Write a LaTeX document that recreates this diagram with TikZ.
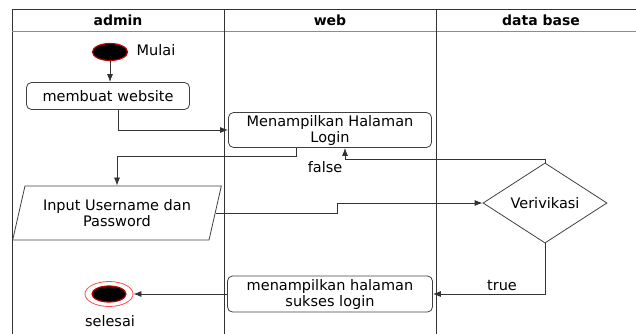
\documentclass[tikz,border=0pt]{standalone}
\usepackage{fontspec}
\setmainfont{DejaVu Sans}
\usetikzlibrary{shapes.geometric,arrows.meta,calc}
\begin{document}
\begin{tikzpicture}[x=1pt,y=-1pt,
                    font=\fontsize{14.5}{16}\selectfont,
                    line width=0.8pt,
                    >={Latex[length=8pt,width=6pt]}]
    \tikzstyle{lane}=[draw=black!80,line width=1pt]
    \tikzstyle{header}=[font=\fontsize{14}{16}\selectfont\bfseries]
    \tikzstyle{activity}=[draw=black!75,rounded corners=5pt,align=center,inner sep=1pt]
    \tikzstyle{startstate}=[ellipse,fill=black,draw=red!75!black,line width=1.2pt,minimum width=35,minimum height=17]
    \tikzstyle{endring}=[ellipse,draw=red!70,line width=0.8pt,minimum width=48,minimum height=25]
    \tikzstyle{endstate}=[startstate,minimum width=34,minimum height=16]
    \tikzstyle{flow}=[draw=black!80,->]

    \useasboundingbox (0,0) rectangle (636,334);

    % swimlanes
    \draw[lane] (12,334) -- (12,10) -- (636,10);
    \draw[lane,draw=black!45] (12,32) -- (636,32);
    \draw[lane] (224,10) -- (224,334);
    \draw[lane] (436,10) -- (436,334);
    \node[header] (admin) at (118,20) {admin};
    \node[header] (web) at (330,20) {web};
    \node[header] (db) at (541,20) {data base};

    % nodes
    \node[startstate] (start) at (110,52) {};
    \node (mulai) at (156,50) {Mulai};
    \node[activity,minimum width=163,minimum height=27] (website) at (108,96) {membuat website};
    \node[activity,minimum width=203,minimum height=35] (login) at (330,130) {Menampilkan Halaman\\Login};
    \node[trapezium,trapezium left angle=70,trapezium right angle=110,trapezium stretches=true,
          draw=black!75,align=center,inner sep=0pt,minimum width=209,minimum height=54] (input) at (117,213)
          {Input Username dan\\Password};
    \node[diamond,draw=black!75,inner sep=0pt,minimum width=124,minimum height=69] (verif) at (545,203) {Verivikasi};
    \node[activity,minimum width=205,minimum height=36] (sukses) at (330,294) {menampilkan halaman\\sukses login};
    \node[endring] (end) at (109,294) {};
    \node[endstate] (endin) at (109,294) {};
    \node (selesai) at (110,321) {selesai};

    % connectors
    \draw[flow] (start) -- (start |- website.north);
    \draw[flow] ($(website.south)+(10,0)$) |- (login.west);
    \draw[flow] ($(login.south)+(-34,0)$) -- ++(0,8) -| (input.north);
    \draw[flow] (verif.north) -- ++(0,-3) -| ($(login.south)+(15,0)$);
    \node (false) at (325,167) {false};
    \draw[flow] (input.east) -- ++(122,0) |- (verif.west);
    \draw[flow] (verif.south) |- (sukses.east);
    \node (true) at (502,286) {true};
    \draw[flow] (sukses.west) -- (end.east);
\end{tikzpicture}
\end{document}
